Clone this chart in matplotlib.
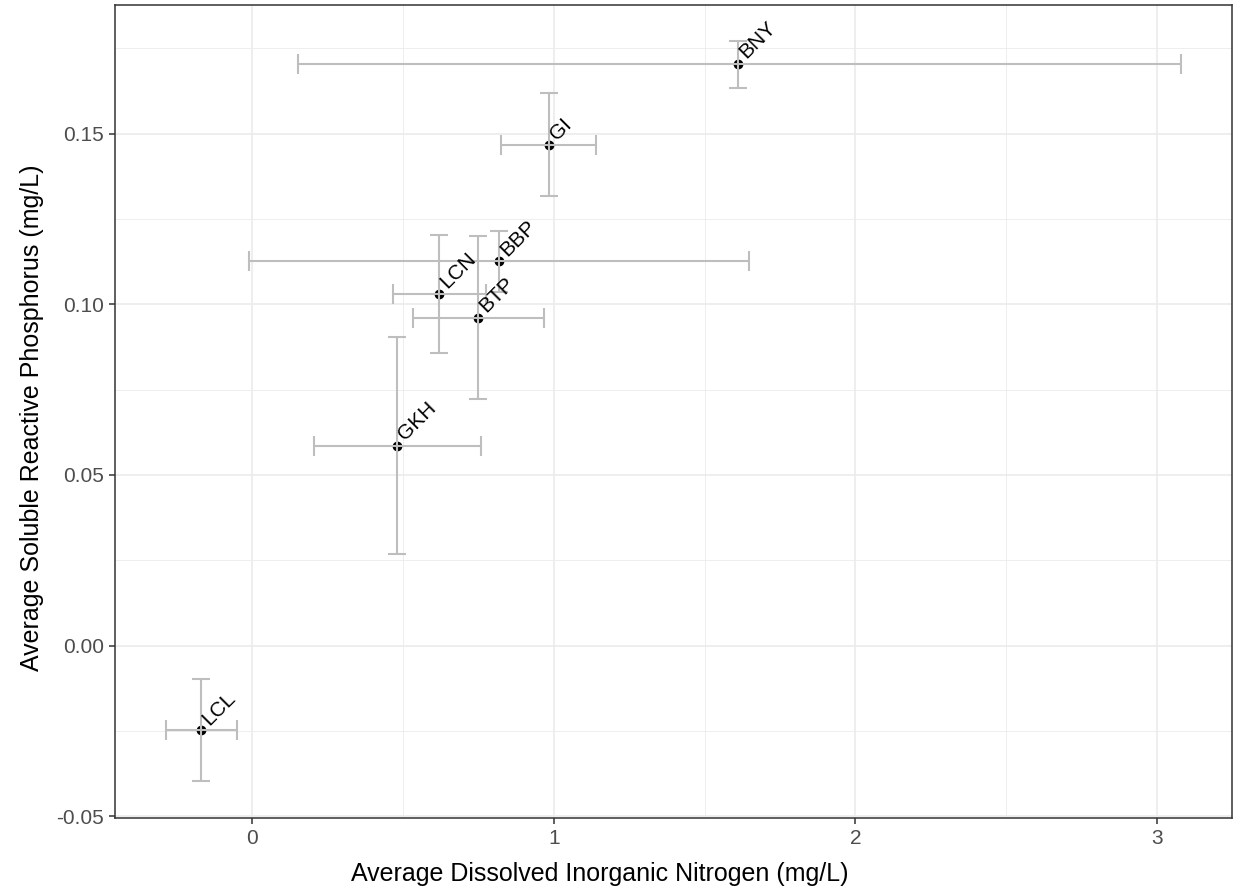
import matplotlib.pyplot as plt
from matplotlib.ticker import MultipleLocator

plt.rcParams['font.family'] = ['Liberation Sans', 'DejaVu Sans']

# site means and error bar limits
sites = ['BNY', 'GI', 'BBP', 'LCN', 'BTP', 'GKH', 'LCL']
din = [1.612, 0.984, 0.820, 0.621, 0.750, 0.481, -0.168]
din_low = [0.151, 0.826, -0.009, 0.467, 0.532, 0.206, -0.287]
din_high = [3.080, 1.141, 1.649, 0.776, 0.969, 0.758, -0.050]
srp = [0.1705, 0.1466, 0.1126, 0.1031, 0.0961, 0.0585, -0.0248]
srp_low = [0.1635, 0.1316, 0.1036, 0.0858, 0.0723, 0.0269, -0.0396]
srp_high = [0.1772, 0.1618, 0.1216, 0.1203, 0.1199, 0.0904, -0.0098]

xerr = [[m - lo for m, lo in zip(din, din_low)], [hi - m for m, hi in zip(din, din_high)]]
yerr = [[m - lo for m, lo in zip(srp, srp_low)], [hi - m for m, hi in zip(srp, srp_high)]]

fig = plt.figure(figsize=(12.36, 8.92), dpi=100)
ax = fig.add_axes([0.093, 0.0835, 0.9035, 0.9112])

ax.scatter(din, srp, s=36, color='black', zorder=3)
ax.errorbar(din, srp, yerr=yerr, fmt='none', ecolor='#BEBEBE', elinewidth=1.5,
            capsize=6.5, capthick=1.5, zorder=4)
ax.errorbar(din, srp, xerr=xerr, fmt='none', ecolor='#BEBEBE', elinewidth=1.5,
            capsize=7.2, capthick=1.5, zorder=4)

for name, x, y in zip(sites, din, srp):
    ax.annotate(name, (x, y), xytext=(3, 6), textcoords='offset points',
                rotation=45, rotation_mode='anchor', ha='left', va='center',
                fontsize=15, color='black', zorder=5)

ax.set_xlim(-0.455, 3.248)
ax.set_ylim(-0.0504, 0.1878)
ax.xaxis.set_major_locator(MultipleLocator(1))
ax.xaxis.set_minor_locator(MultipleLocator(0.5))
ax.yaxis.set_major_locator(MultipleLocator(0.05))
ax.yaxis.set_minor_locator(MultipleLocator(0.025))
ax.set_yticks([-0.05, 0.0, 0.05, 0.10, 0.15])
ax.set_yticklabels(['-0.05', '0.00', '0.05', '0.10', '0.15'])

ax.grid(which='major', color='#EBEBEB', linewidth=1.2)
ax.grid(which='minor', color='#EBEBEB', linewidth=0.6)
ax.set_axisbelow(True)

for sp in ax.spines.values():
    sp.set_color('#333333')
    sp.set_linewidth(1.1)
ax.tick_params(which='major', length=4, width=1.1, color='#333333',
               labelsize=15, labelcolor='#4D4D4D', pad=4)
ax.tick_params(which='minor', length=0)

ax.set_xlabel('Average Dissolved Inorganic Nitrogen (mg/L)', fontsize=18, labelpad=7)
ax.set_ylabel('Average Soluble Reactive Phosphorus (mg/L)', fontsize=18, labelpad=9)
ax.xaxis.set_label_coords(0.434, -0.055)
ax.yaxis.get_label().set_y(0.4915)

fig.savefig('out.png', dpi=100)
